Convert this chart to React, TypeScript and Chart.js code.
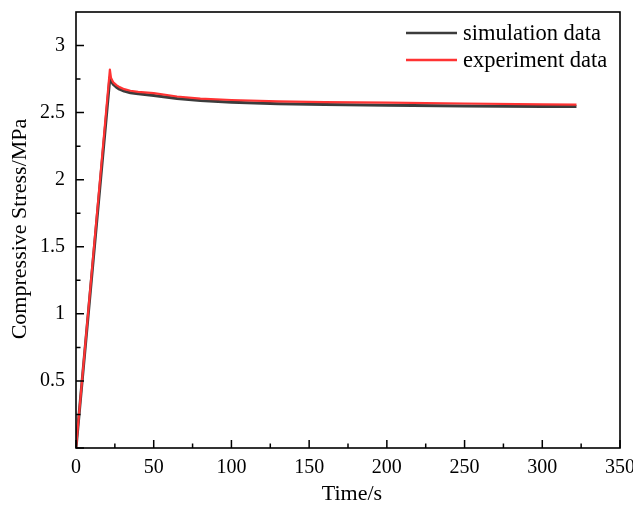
import React, { useEffect, useRef } from "react";
import { Chart, registerables } from "chart.js";

Chart.register(...registerables);

const timeS = [0, 21.8, 22.5, 24, 26, 28, 31, 35, 40, 50, 65, 80, 100, 130, 160, 200, 250, 300, 322];
const simulation = [0, 2.76, 2.74, 2.71, 2.69, 2.675, 2.66, 2.648, 2.64, 2.628, 2.605, 2.59, 2.578, 2.567, 2.56, 2.555, 2.55, 2.546, 2.545];
const experiment = [0, 2.82, 2.76, 2.725, 2.705, 2.69, 2.675, 2.663, 2.655, 2.645, 2.62, 2.604, 2.594, 2.584, 2.578, 2.574, 2.568, 2.562, 2.56];
const xTicks = [0, 50, 100, 150, 200, 250, 300, 350];
const yTicks = [0, 0.5, 1, 1.5, 2, 2.5, 3];
const seriesNames = ["simulation data", "experiment data"];
const seriesColors = ["#3c3c3c", "#ff3333"];
const xTitle = "Time/s";
const yTitle = "Compressive Stress/MPa";

const FONT = "'Liberation Serif', 'Times New Roman', serif";

const decorPlugin = {
  id: "decor",
  afterDraw(chart: any) {
    const ctx = chart.ctx;
    const { left, right, top, bottom } = chart.chartArea;
    const xs = chart.scales.x;
    const ys = chart.scales.y;
    ctx.save();
    ctx.strokeStyle = "#000";
    ctx.lineWidth = 1.6;
    ctx.strokeRect(left, top, right - left, bottom - top);
    // inward ticks
    ctx.lineWidth = 1.5;
    ctx.beginPath();
    for (let i = 0; i < xTicks.length; i++) {
      const px = xs.getPixelForValue(xTicks[i]);
      ctx.moveTo(px, bottom);
      ctx.lineTo(px, bottom - 8);
      if (i < xTicks.length - 1) {
        const mx = xs.getPixelForValue((xTicks[i] + xTicks[i + 1]) / 2);
        ctx.moveTo(mx, bottom);
        ctx.lineTo(mx, bottom - 4.5);
      }
    }
    for (let i = 0; i < yTicks.length; i++) {
      const py = ys.getPixelForValue(yTicks[i]);
      ctx.moveTo(left, py);
      ctx.lineTo(left + 8, py);
      const mv = yTicks[i] + 0.25;
      if (mv < ys.max) {
        const my = ys.getPixelForValue(mv);
        ctx.moveTo(left, my);
        ctx.lineTo(left + 4.5, my);
      }
    }
    ctx.stroke();
    // axis titles
    ctx.fillStyle = "#000";
    ctx.font = "22px " + FONT;
    ctx.textAlign = "center";
    ctx.textBaseline = "middle";
    ctx.fillText(xTitle, 352, 494);
    ctx.save();
    ctx.translate(20, 229);
    ctx.rotate(-Math.PI / 2);
    ctx.fillText(yTitle, 0, 0);
    ctx.restore();
    // legend
    ctx.font = "22.5px " + FONT;
    ctx.textAlign = "left";
    const ly = [33, 60];
    for (let i = 0; i < seriesNames.length; i++) {
      ctx.strokeStyle = seriesColors[i];
      ctx.lineWidth = 2.5;
      ctx.beginPath();
      ctx.moveTo(406, ly[i]);
      ctx.lineTo(457, ly[i]);
      ctx.stroke();
      ctx.fillStyle = "#000";
      ctx.fillText(seriesNames[i], 463, ly[i] + 1);
    }
    ctx.restore();
  },
};

export default function App() {
  const ref = useRef<HTMLCanvasElement | null>(null);
  useEffect(() => {
    if (!ref.current) return;
    const mk = (ys: number[]) => timeS.map((t, i) => ({ x: t, y: ys[i] }));
    const chart = new Chart(ref.current, {
      type: "line",
      data: {
        datasets: [
          {
            label: seriesNames[0],
            data: mk(simulation),
            borderColor: seriesColors[0],
            borderWidth: 3,
            pointRadius: 0,
            tension: 0,
            borderJoinStyle: "round",
            order: 1,
          },
          {
            label: seriesNames[1],
            data: mk(experiment),
            borderColor: seriesColors[1],
            borderWidth: 2.2,
            pointRadius: 0,
            tension: 0,
            borderJoinStyle: "round",
            order: 0,
          },
        ],
      },
      options: {
        responsive: false,
        animation: false,
        layout: { padding: { left: 0, top: 12, right: 13, bottom: 0 } },
        plugins: { legend: { display: false }, tooltip: { enabled: false } },
        scales: {
          x: {
            type: "linear",
            min: 0,
            max: 350,
            grid: { display: false, drawTicks: false },
            border: { display: false },
            afterBuildTicks: (s: any) => {
              s.ticks = xTicks.map((v) => ({ value: v }));
            },
            afterFit: (s: any) => {
              s.height = 57;
              s.paddingLeft = 0;
              s.paddingRight = 0;
            },
            ticks: {
              padding: 8,
              color: "#000",
              font: { family: FONT, size: 20 },
              maxRotation: 0,
              autoSkip: false,
            },
          },
          y: {
            type: "linear",
            min: 0,
            max: 3.25,
            grid: { display: false, drawTicks: false },
            border: { display: false },
            afterBuildTicks: (s: any) => {
              s.ticks = yTicks.map((v) => ({ value: v }));
            },
            afterFit: (s: any) => {
              s.width = 76;
              s.paddingTop = 0;
              s.paddingBottom = 0;
            },
            ticks: {
              padding: 11,
              color: "#000",
              font: { family: FONT, size: 20 },
              autoSkip: false,
              callback: (v: any) => (v === 0 ? "" : String(v)),
            },
          },
        },
      },
      plugins: [decorPlugin],
    } as any);
    return () => chart.destroy();
  }, []);
  return (
    <div style={{ position: "fixed", left: 0, top: 0, width: 633, height: 505, background: "#fff" }}>
      <canvas ref={ref} width={633} height={505} />
    </div>
  );
}
